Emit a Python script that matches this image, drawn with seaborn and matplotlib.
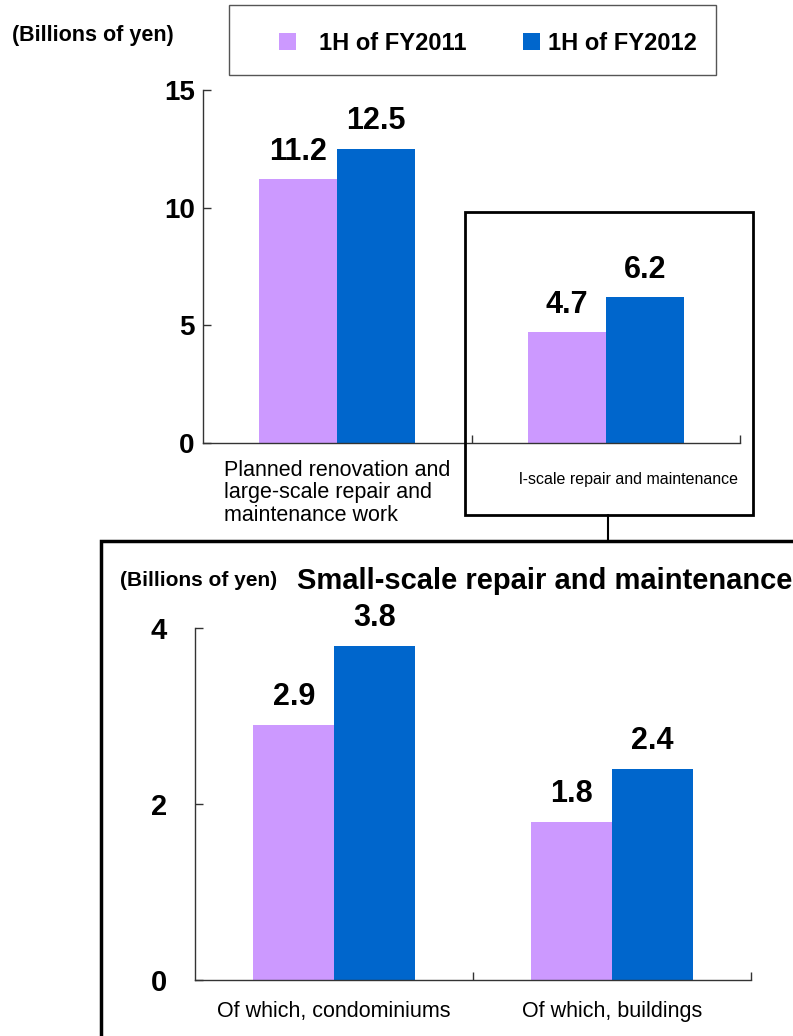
import matplotlib
matplotlib.use("Agg")
import matplotlib.pyplot as plt
import seaborn as sns
import pandas as pd
from matplotlib.patches import Rectangle
from matplotlib.lines import Line2D
from matplotlib.transforms import ScaledTranslation

# ---- data ----
periods = ["1H of FY2011", "1H of FY2012"]
main_categories = [
    "Planned renovation and\nlarge-scale repair and\nmaintenance work",
    "l-scale repair and maintenance",
]
main_fy2011 = [11.2, 4.7]
main_fy2012 = [12.5, 6.2]
detail_categories = ["Of which, condominiums", "Of which, buildings"]
detail_fy2011 = [2.9, 1.8]
detail_fy2012 = [3.8, 2.4]
main_ticks = [0, 5, 10, 15]
detail_ticks = [0, 2, 4]
palette = {"1H of FY2011": "#CC99FF", "1H of FY2012": "#0066CC"}


def frame(cats, first, second):
    return pd.DataFrame({
        "category": list(cats) * 2,
        "period": [periods[0]] * len(cats) + [periods[1]] * len(cats),
        "value": list(first) + list(second),
    })


W, H = 793, 1036
sns.set_theme(style="white")
plt.rcParams["font.family"] = ["Liberation Sans", "DejaVu Sans"]
plt.rcParams["text.color"] = "black"
plt.rcParams["xtick.color"] = "black"
plt.rcParams["ytick.color"] = "black"

fig = plt.figure(figsize=(W / 100, H / 100), dpi=100)


def fx(x):
    return x / W


def fy(y):
    return 1 - y / H


ax1 = fig.add_axes([fx(203), fy(443), (740 - 203) / W, (443 - 90) / H])
ax2 = fig.add_axes([fx(195), fy(980), (751 - 195) / W, (980 - 628) / H])

sns.barplot(data=frame(main_categories, main_fy2011, main_fy2012),
            x="category", y="value", hue="period", order=main_categories,
            hue_order=periods, palette=palette, width=0.58, gap=0,
            saturation=1, linewidth=0, ax=ax1)
sns.barplot(data=frame(detail_categories, detail_fy2011, detail_fy2012),
            x="category", y="value", hue="period", order=detail_categories,
            hue_order=periods, palette=palette, width=0.58, gap=0,
            saturation=1, linewidth=0, ax=ax2, legend=False)

handles, labels = ax1.get_legend_handles_labels()
ax1.get_legend().remove()

for ax, ticks, fs_tick, ypad in ((ax1, main_ticks, 20, 6),
                                 (ax2, detail_ticks, 21, 20)):
    ax.set_xlim(-0.5, 1.5)
    ax.set_ylim(ticks[0], ticks[-1])
    ax.set_yticks(ticks)
    ax.set_xlabel("")
    ax.set_ylabel("")
    for s in ("top", "right"):
        ax.spines[s].set_visible(False)
    for s in ("left", "bottom"):
        ax.spines[s].set_color("#333333")
        ax.spines[s].set_linewidth(1)
    ax.set_xticks([0.5, 1.5], minor=True)
    ax.tick_params(axis="x", which="major", length=0, bottom=False)
    ax.tick_params(axis="x", which="minor", direction="in", length=6,
                   width=1, color="#333333", bottom=True)
    ax.tick_params(axis="y", direction="in", length=6, width=1,
                   color="#333333", left=True, pad=ypad)
    for lab in ax.get_yticklabels():
        lab.set_fontsize(fs_tick)
        lab.set_fontweight("bold")
    for cont in ax.containers:
        ax.bar_label(cont, fmt="%.1f", padding=9, fontsize=22,
                     fontweight="bold", color="black")

# category labels, upper chart
ax1.tick_params(axis="x", which="major", pad=12)
xl = ax1.get_xticklabels()
xl[0].set_fontsize(15.5)
xl[0].set_multialignment("left")
xl[0].set_linespacing(1.1)
xl[1].set_fontsize(11.5)
xl[1].set_transform(xl[1].get_transform() +
                    ScaledTranslation(0.23, -0.12, fig.dpi_scale_trans))

# category labels, lower chart
ax2.tick_params(axis="x", which="major", pad=15)
for lab in ax2.get_xticklabels():
    lab.set_fontsize(15.5)

# legend entries, each placed on its own
for h, lab, x0, gap in ((handles[0], labels[0], 279, 0.97),
                        (handles[1], labels[1], 523, 0.34)):
    fig.legend([h], [lab], loc="center left", bbox_to_anchor=(fx(x0), fy(43)),
               frameon=False, borderpad=0, borderaxespad=0,
               handlelength=0.72, handleheight=0.72, handletextpad=gap,
               prop={"size": 17, "weight": "bold"})
fig.add_artist(Rectangle((fx(229), fy(75)), (716 - 229) / W, 70 / H,
                         fill=False, lw=1, ec="#555555",
                         transform=fig.transFigure))

# frame around the small-scale group and the breakdown panel
fig.add_artist(Rectangle((fx(465), fy(515)), (753 - 465) / W, (515 - 212) / H,
                         fill=False, lw=2, ec="black",
                         transform=fig.transFigure))
fig.add_artist(Line2D([fx(608), fx(608)], [fy(515), fy(541)], lw=1.5,
                      color="black", transform=fig.transFigure))
fig.add_artist(Rectangle((fx(101), fy(1045)), (810 - 101) / W, (1045 - 541) / H,
                         fill=False, lw=2.5, ec="black",
                         transform=fig.transFigure))

# unit notes and breakdown title
fig.text(fx(12), fy(36), "(Billions of yen)", fontsize=15.5,
         fontweight="bold", va="center", ha="left")
fig.text(fx(120), fy(581), "(Billions of yen)", fontsize=15,
         fontweight="bold", va="center", ha="left")
fig.text(fx(297), fy(581), "Small-scale repair and maintenance", fontsize=21,
         fontweight="bold", va="center", ha="left")

fig.savefig("out.png", dpi=100)
